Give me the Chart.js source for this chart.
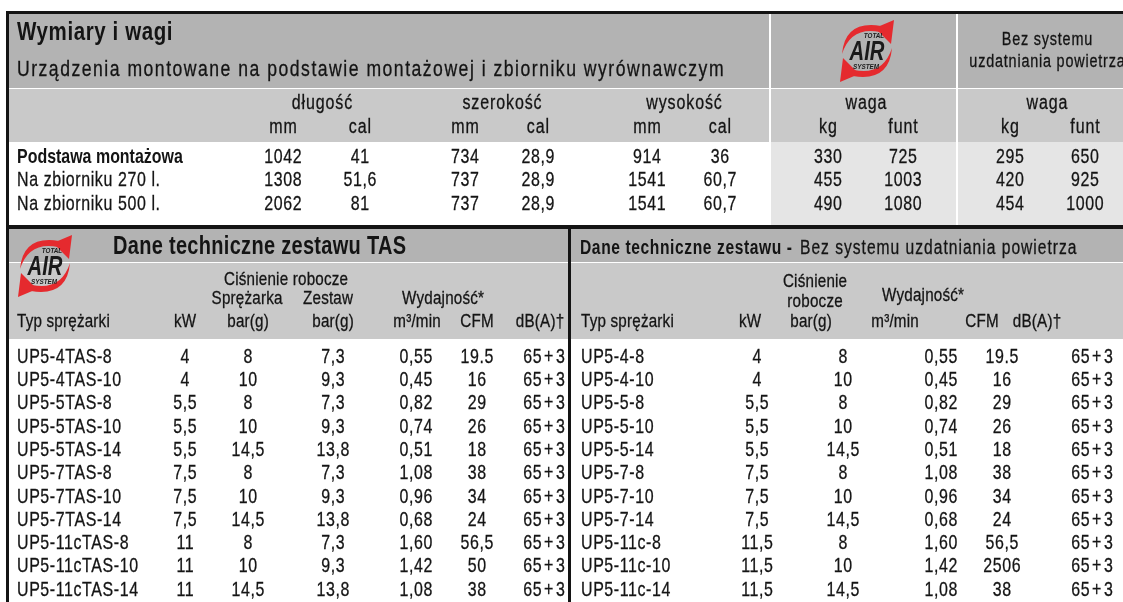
<!DOCTYPE html>
<html>
<head>
<meta charset="utf-8">
<script src="https://cdn.jsdelivr.net/npm/chart.js@4.4.1/dist/chart.umd.min.js"></script>
<style>
  html, body { margin: 0; padding: 0; background: #fff; }
  #wrap { width: 1123px; height: 602px; }
</style>
</head>
<body>
<div id="wrap"><canvas id="specTable" width="1123" height="602"></canvas></div>
<script>
// ---------- data: wymiary i wagi ----------
const dimRows   = ['Podstawa montażowa', 'Na zbiorniku 270 l.', 'Na zbiorniku 500 l.'];
const lengthMm  = ['1042', '1308', '2062'];
const lengthIn  = ['41', '51,6', '81'];
const widthMm   = ['734', '737', '737'];
const widthIn   = ['28,9', '28,9', '28,9'];
const heightMm  = ['914', '1541', '1541'];
const heightIn  = ['36', '60,7', '60,7'];
const tasKg     = ['330', '455', '490'];
const tasLb     = ['725', '1003', '1080'];
const plainKg   = ['295', '420', '454'];
const plainLb   = ['650', '925', '1000'];

const dimGroups = ['długość', 'szerokość', 'wysokość', 'waga', 'waga'];
const dimUnits  = ['mm', 'cal', 'mm', 'cal', 'mm', 'cal', 'kg', 'funt', 'kg', 'funt'];

// ---------- data: zestaw TAS ----------
const tasModels  = ['UP5-4TAS-8', 'UP5-4TAS-10', 'UP5-5TAS-8', 'UP5-5TAS-10', 'UP5-5TAS-14', 'UP5-7TAS-8',
                    'UP5-7TAS-10', 'UP5-7TAS-14', 'UP5-11cTAS-8', 'UP5-11cTAS-10', 'UP5-11cTAS-14'];
const tasKw      = ['4', '4', '5,5', '5,5', '5,5', '7,5', '7,5', '7,5', '11', '11', '11'];
const tasCompBar = ['8', '10', '8', '10', '14,5', '8', '10', '14,5', '8', '10', '14,5'];
const tasSetBar  = ['7,3', '9,3', '7,3', '9,3', '13,8', '7,3', '9,3', '13,8', '7,3', '9,3', '13,8'];
const tasFlow    = ['0,55', '0,45', '0,82', '0,74', '0,51', '1,08', '0,96', '0,68', '1,60', '1,42', '1,08'];
const tasCfm     = ['19.5', '16', '29', '26', '18', '38', '34', '24', '56,5', '50', '38'];
const tasDb      = ['65+3', '65+3', '65+3', '65+3', '65+3', '65+3', '65+3', '65+3', '65+3', '65+3', '65+3'];

// ---------- data: bez systemu uzdatniania ----------
const stdModels = ['UP5-4-8', 'UP5-4-10', 'UP5-5-8', 'UP5-5-10', 'UP5-5-14', 'UP5-7-8',
                   'UP5-7-10', 'UP5-7-14', 'UP5-11c-8', 'UP5-11c-10', 'UP5-11c-14'];
const stdKw     = ['4', '4', '5,5', '5,5', '5,5', '7,5', '7,5', '7,5', '11,5', '11,5', '11,5'];
const stdBar    = ['8', '10', '8', '10', '14,5', '8', '10', '14,5', '8', '10', '14,5'];
const stdFlow   = ['0,55', '0,45', '0,82', '0,74', '0,51', '1,08', '0,96', '0,68', '1,60', '1,42', '1,08'];
const stdCfm    = ['19.5', '16', '29', '26', '18', '38', '34', '24', '56,5', '2506', '38'];
const stdDb     = ['65+3', '65+3', '65+3', '65+3', '65+3', '65+3', '65+3', '65+3', '65+3', '65+3', '65+3'];

// ---------- layout ----------
const W = 1123, H = 602;
const FONT = "'Liberation Sans', Arial, Helvetica, sans-serif";
const INK = '#141414';
const DARK_BAND = '#b3b3b3', LIGHT_BAND = '#c9c9c9', WEIGHT_BG = '#e5e5e5';
const TOP_ROW0 = 157, TOP_STEP = 23.5;
const BOT_ROW0 = 357, BOT_STEP = 23.3;
const dimCols = [283, 360, 465, 538, 647, 720, 828, 903, 1010, 1085];
const dimGroupX = [322, 502, 684, 866, 1047];

// condensed look: Liberation Sans squeezed horizontally plus a little tracking
const STYLES = {
  title:   { size: 25, sx: 0.82, ls: 0.6, bold: true },
  sub:     { size: 22, sx: 0.8, ls: 1.5, thick: 0.3 },
  note:    { size: 18, sx: 0.8, ls: 0.8, thick: 0.3 },
  head:    { size: 20, sx: 0.8, ls: 0.9, thick: 0.3 },
  head2:   { size: 19, sx: 0.8, ls: 0.2, thick: 0.3 },
  data:    { size: 21, sx: 0.76, ls: 0.6, thick: 0.3 },
  dataB:   { size: 21, sx: 0.76, ls: 0, bold: true },
  big:     { size: 25, sx: 0.8, ls: 0.3, bold: true },
  rtitleB: { size: 20, sx: 0.78, ls: 0.6, bold: true },
  rtitle:  { size: 20, sx: 0.78, ls: 1.0, thick: 0.3 },
  logoBig: { size: 27, sx: 0.75, ls: 0, bold: true, italic: true, color: '#1a1a1a' },
  logoSm:  { size: 7, sx: 0.9, ls: 0, bold: true, italic: true, color: '#1a1a1a' }
};

function rowAxis(row0, step) {
  const min = -row0 / step;
  return { type: 'linear', display: false, reverse: true, min: min, max: min + H / step };
}

function column(cells, xPos, axis, opts) {
  return Object.assign({
    data: cells.map((_, i) => ({ x: xPos, y: i })),
    cells: cells,
    yAxisID: axis,
    pointRadius: 0,
    showLine: false,
    align: 'center',
    style: 'data',
    format: s => s
  }, opts || {});
}

function drawText(ctx, str, x, y, styleName, align) {
  const s = STYLES[styleName];
  ctx.save();
  ctx.font = (s.italic ? 'italic ' : '') + (s.bold ? 'bold ' : '') + s.size + 'px ' + FONT;
  const ls = s.ls / s.sx;
  if ('letterSpacing' in ctx) ctx.letterSpacing = ls + 'px';
  let w = ctx.measureText(str).width;
  if ('letterSpacing' in ctx) w -= ls;
  w *= s.sx;
  const left = align === 'left' ? 0 : align === 'right' ? -w : -w / 2;
  ctx.translate(x + left, y);
  ctx.scale(s.sx, 1);
  ctx.fillStyle = s.color || INK;
  ctx.textAlign = 'left';
  ctx.textBaseline = 'middle';
  ctx.fillText(str, 0, 0);
  if (s.thick) {
    ctx.strokeStyle = s.color || INK;
    ctx.lineWidth = s.thick;
    ctx.strokeText(str, 0, 0);
  }
  ctx.restore();
  return w;
}

function drawLogo(ctx, cx, cy) {
  ctx.save();
  ctx.translate(cx, cy);
  ctx.fillStyle = '#e52a2e';
  for (let k = 0; k < 2; k++) {
    ctx.save();
    if (k === 1) ctx.rotate(Math.PI);
    ctx.beginPath();
    ctx.moveTo(-25, 3);
    ctx.quadraticCurveTo(-22, -31, 14, -25);
    ctx.lineTo(13, -19);
    ctx.quadraticCurveTo(-16, -25, -25, 3);
    ctx.fill();
    ctx.beginPath();
    ctx.moveTo(27, -31);
    ctx.lineTo(24, -7);
    ctx.lineTo(8, -23);
    ctx.closePath();
    ctx.fill();
    ctx.restore();
  }
  drawText(ctx, 'AIR', 0, 2, 'logoBig');
  drawText(ctx, 'TOTAL', 7, -15, 'logoSm');
  drawText(ctx, 'SYSTEM', -1, 16, 'logoSm');
  ctx.restore();
}

const tablePlugin = {
  id: 'tablePlugin',
  beforeDatasetsDraw(chart) {
    const { ctx, scales: { x, yPx } } = chart;
    const rect = (x0, y0, x1, y1, c) => {
      const px0 = x.getPixelForValue(x0), py0 = yPx.getPixelForValue(y0);
      ctx.fillStyle = c;
      ctx.fillRect(px0, py0, x.getPixelForValue(x1) - px0, yPx.getPixelForValue(y1) - py0);
    };
    // top block
    rect(9, 14, W, 88, DARK_BAND);
    rect(9, 89, W, 142, LIGHT_BAND);
    rect(771, 142, 956, 225, WEIGHT_BG);
    rect(958, 142, W, 225, WEIGHT_BG);
    rect(769, 14, 771, 225, '#ffffff');
    rect(956, 14, 958, 225, '#ffffff');
    // bottom block
    rect(9, 229, W, 262, DARK_BAND);
    rect(9, 263, W, 339, LIGHT_BAND);
    // rules
    rect(6, 11, W, 14, INK);
    rect(6, 11, 9, H, INK);
    rect(6, 225, W, 229, INK);
    rect(568, 229, 571, H, INK);
  },
  afterDatasetsDraw(chart) {
    const { ctx, scales: { x, yPx } } = chart;
    const X = v => x.getPixelForValue(v), Y = v => yPx.getPixelForValue(v);

    chart.data.datasets.forEach((ds, di) => {
      chart.getDatasetMeta(di).data.forEach((pt, i) => {
        const style = Array.isArray(ds.style) ? ds.style[i] : ds.style;
        drawText(ctx, ds.format(ds.cells[i]), pt.x, pt.y, style, ds.align);
      });
    });

    // top headers
    drawText(ctx, 'Wymiary i wagi', X(17), Y(33), 'title', 'left');
    drawText(ctx, 'Urządzenia montowane na podstawie montażowej i zbiorniku wyrównawczym', X(17), Y(70), 'sub', 'left');
    drawText(ctx, 'Bez systemu', X(1047), Y(40), 'note');
    drawText(ctx, 'uzdatniania powietrza', X(1047), Y(62), 'note');
    dimGroups.forEach((g, i) => drawText(ctx, g, X(dimGroupX[i]), Y(103), 'head'));
    dimUnits.forEach((u, i) => drawText(ctx, u, X(dimCols[i]), Y(127), 'head'));
    drawLogo(ctx, X(867), Y(51));

    // bottom-left headers
    drawLogo(ctx, X(45), Y(266));
    drawText(ctx, 'Dane techniczne zestawu TAS', X(113), Y(247), 'big', 'left');
    drawText(ctx, 'Ciśnienie robocze', X(286), Y(280), 'head2');
    drawText(ctx, 'Sprężarka', X(247), Y(299), 'head2');
    drawText(ctx, 'Zestaw', X(328), Y(299), 'head2');
    drawText(ctx, 'Wydajność*', X(443), Y(299), 'head2');
    drawText(ctx, 'Typ sprężarki', X(17), Y(322), 'head2', 'left');
    [['kW', 185], ['bar(g)', 248], ['bar(g)', 333], ['m³/min', 417], ['CFM', 477], ['dB(A)†', 540]]
      .forEach(h => drawText(ctx, h[0], X(h[1]), Y(322), 'head2'));

    // bottom-right headers
    const bw = drawText(ctx, 'Dane techniczne zestawu - ', X(580), Y(248), 'rtitleB', 'left');
    drawText(ctx, 'Bez systemu uzdatniania powietrza', X(580) + bw + 3, Y(248), 'rtitle', 'left');
    drawText(ctx, 'Ciśnienie', X(815), Y(282), 'head2');
    drawText(ctx, 'robocze', X(815), Y(302), 'head2');
    drawText(ctx, 'Wydajność*', X(923), Y(296), 'head2');
    drawText(ctx, 'Typ sprężarki', X(581), Y(322), 'head2', 'left');
    [['kW', 750], ['bar(g)', 811], ['m³/min', 895], ['CFM', 982], ['dB(A)†', 1037]]
      .forEach(h => drawText(ctx, h[0], X(h[1]), Y(322), 'head2'));
  }
};

// "65+3" is typeset with a little air round the plus sign
const spacedPlus = s => s.replace('+', '\u200A+\u200A');

const datasets = [
  column(dimRows, 17, 'yTop', { align: 'left', style: ['dataB', 'data', 'data'] }),
  column(lengthMm, dimCols[0], 'yTop'),
  column(lengthIn, dimCols[1], 'yTop'),
  column(widthMm, dimCols[2], 'yTop'),
  column(widthIn, dimCols[3], 'yTop'),
  column(heightMm, dimCols[4], 'yTop'),
  column(heightIn, dimCols[5], 'yTop'),
  column(tasKg, dimCols[6], 'yTop'),
  column(tasLb, dimCols[7], 'yTop'),
  column(plainKg, dimCols[8], 'yTop'),
  column(plainLb, dimCols[9], 'yTop'),

  column(tasModels, 17, 'yBot', { align: 'left' }),
  column(tasKw, 185, 'yBot'),
  column(tasCompBar, 248, 'yBot'),
  column(tasSetBar, 333, 'yBot'),
  column(tasFlow, 416, 'yBot'),
  column(tasCfm, 477, 'yBot'),
  column(tasDb, 544, 'yBot', { format: spacedPlus }),

  column(stdModels, 581, 'yBot', { align: 'left' }),
  column(stdKw, 757, 'yBot'),
  column(stdBar, 843, 'yBot'),
  column(stdFlow, 941, 'yBot'),
  column(stdCfm, 1002, 'yBot'),
  column(stdDb, 1092, 'yBot', { format: spacedPlus })
];

new Chart(document.getElementById('specTable'), {
  type: 'scatter',
  data: { datasets: datasets },
  options: {
    responsive: false,
    animation: false,
    events: [],
    layout: { padding: 0 },
    plugins: { legend: { display: false }, tooltip: { enabled: false } },
    scales: {
      x: { type: 'linear', display: false, min: 0, max: W },
      yPx: { type: 'linear', display: false, reverse: true, min: 0, max: H },
      yTop: rowAxis(TOP_ROW0, TOP_STEP),
      yBot: rowAxis(BOT_ROW0, BOT_STEP)
    }
  },
  plugins: [tablePlugin]
});
</script>
</body>
</html>
